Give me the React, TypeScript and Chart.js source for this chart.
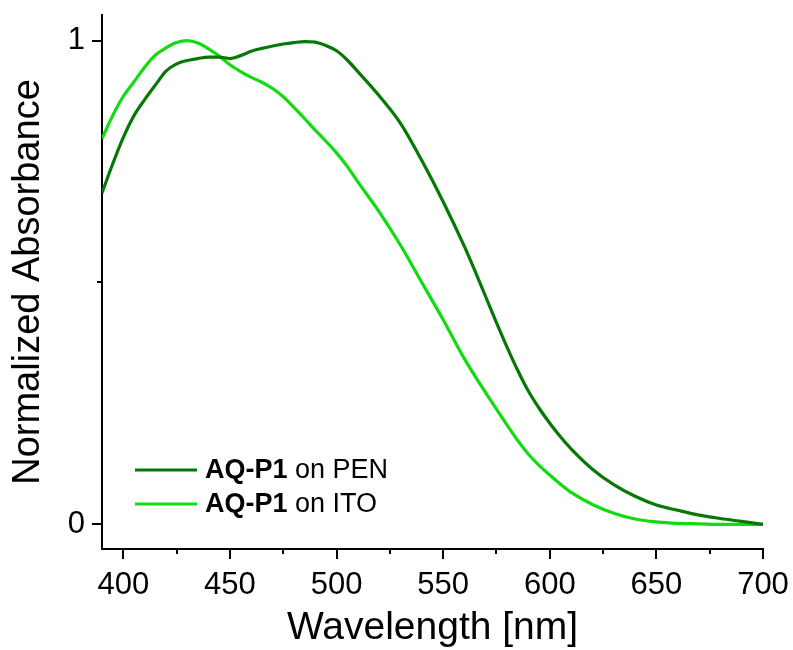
import React, { useEffect, useRef } from 'react';
import { Chart, registerables } from 'chart.js';

Chart.register(...registerables);

const wavelengths = [
  390, 395, 400, 405, 410, 415, 420, 425, 430, 435, 440, 445, 450, 455, 460, 465, 470, 475, 480, 485,
  490, 495, 500, 505, 510, 520, 530, 540, 550, 560, 565, 570, 575, 580, 585, 590, 595, 600, 605, 610,
  620, 630, 640, 650, 660, 670, 680, 690, 700,
];

const absPEN = [
  0.685, 0.745, 0.8, 0.845, 0.878, 0.908, 0.937, 0.952, 0.959, 0.963, 0.966, 0.966, 0.963, 0.969, 0.978,
  0.984, 0.989, 0.993, 0.996, 0.998, 0.997, 0.99, 0.979, 0.96, 0.936, 0.886, 0.829, 0.752, 0.667, 0.574,
  0.523, 0.47, 0.417, 0.366, 0.318, 0.275, 0.24, 0.209, 0.181, 0.156, 0.114, 0.082, 0.058, 0.04, 0.029,
  0.019, 0.012, 0.006, 0.0,
];

const absITO = [
  0.797, 0.845, 0.885, 0.915, 0.945, 0.97, 0.985, 0.996, 1.0, 0.995, 0.983, 0.968, 0.95, 0.936, 0.924,
  0.914, 0.901, 0.884, 0.862, 0.839, 0.815, 0.792, 0.768, 0.74, 0.708, 0.646, 0.577, 0.5, 0.423, 0.342,
  0.306, 0.272, 0.238, 0.205, 0.173, 0.145, 0.122, 0.102, 0.083, 0.066, 0.041, 0.023, 0.011, 0.005,
  0.002, 0.001, 0.0, 0.0, 0.0,
];

const seriesBold = ['AQ-P1', 'AQ-P1'];
const seriesRest = [' on PEN', ' on ITO'];
const seriesColors = ['#067806', '#10dc10'];

const xMajorTicks = [400, 450, 500, 550, 600, 650, 700];
const xMinorTicks = [425, 475, 525, 575, 625, 675];
const yMajorTicks = [0, 1];
const yMinorTicks = [0.5];

const FONT = '"Liberation Sans", Arial, sans-serif';

const axisPlugin = {
  id: 'axisTicksLegend',
  afterDraw(chart: any) {
    const ctx = chart.ctx;
    const xs = chart.scales.x;
    const ys = chart.scales.y;
    const area = chart.chartArea;
    ctx.save();
    ctx.strokeStyle = '#000';
    ctx.lineWidth = 2;
    ctx.beginPath();
    xMajorTicks.forEach((v) => {
      const px = Math.round(xs.getPixelForValue(v));
      ctx.moveTo(px, area.bottom);
      ctx.lineTo(px, area.bottom + 10);
    });
    xMinorTicks.forEach((v) => {
      const px = Math.round(xs.getPixelForValue(v));
      ctx.moveTo(px, area.bottom);
      ctx.lineTo(px, area.bottom + 5);
    });
    yMajorTicks.forEach((v) => {
      const py = Math.round(ys.getPixelForValue(v));
      ctx.moveTo(area.left, py);
      ctx.lineTo(area.left - 10, py);
    });
    yMinorTicks.forEach((v) => {
      const py = Math.round(ys.getPixelForValue(v));
      ctx.moveTo(area.left, py);
      ctx.lineTo(area.left - 5, py);
    });
    ctx.stroke();

    // legend
    const lx0 = 135;
    const lx1 = 197;
    const ly0 = 470;
    const gap = 34;
    ctx.textBaseline = 'middle';
    ctx.textAlign = 'left';
    seriesBold.forEach((b, i) => {
      const y = ly0 + i * gap;
      ctx.strokeStyle = seriesColors[i];
      ctx.lineWidth = 3;
      ctx.beginPath();
      ctx.moveTo(lx0, y);
      ctx.lineTo(lx1, y);
      ctx.stroke();
      ctx.fillStyle = '#000';
      ctx.font = `bold 27px ${FONT}`;
      ctx.fillText(b, 205, y + 1);
      const w = ctx.measureText(b).width;
      ctx.font = `27px ${FONT}`;
      ctx.fillText(seriesRest[i], 205 + w, y + 1);
    });
    ctx.restore();
  },
};

export default function App() {
  const ref = useRef<HTMLCanvasElement | null>(null);
  useEffect(() => {
    if (!ref.current) return;
    const chart = new Chart(ref.current, {
      type: 'line',
      data: {
        labels: wavelengths,
        datasets: [
          {
            label: seriesBold[0] + seriesRest[0],
            data: wavelengths.map((x, i) => ({ x, y: absPEN[i] })),
            borderColor: seriesColors[0],
            borderWidth: 3.2,
            pointRadius: 0,
            cubicInterpolationMode: 'monotone',
          },
          {
            label: seriesBold[1] + seriesRest[1],
            data: wavelengths.map((x, i) => ({ x, y: absITO[i] })),
            borderColor: seriesColors[1],
            borderWidth: 3.2,
            pointRadius: 0,
            cubicInterpolationMode: 'monotone',
          },
        ],
      },
      options: {
        animation: false,
        responsive: false,
        maintainAspectRatio: false,
        layout: { padding: { top: 15, right: 30, left: 0, bottom: 0 } },
        plugins: { legend: { display: false }, tooltip: { enabled: false } },
        scales: {
          x: {
            type: 'linear',
            min: 390,
            max: 700,
            grid: { display: false, drawTicks: false },
            border: { display: true, color: '#000', width: 2 },
            afterBuildTicks: (s: any) => {
              s.ticks = xMajorTicks.map((value) => ({ value }));
            },
            afterFit: (s: any) => {
              s.height = 101;
              s.paddingLeft = 0;
              s.paddingRight = 0;
              s.paddingTop = 0;
              s.paddingBottom = 0;
            },
            ticks: {
              color: '#000',
              padding: 18,
              maxRotation: 0,
              autoSkip: false,
              font: { family: FONT, size: 31 },
              callback: (v: any) => String(v),
            },
            title: {
              display: true,
              text: 'Wavelength [nm]',
              color: '#000',
              font: { family: FONT, size: 39, lineHeight: 1 },
              padding: { top: 0, bottom: 2 },
            },
          },
          y: {
            type: 'linear',
            min: -0.051,
            max: 1.053,
            grid: { display: false, drawTicks: false },
            border: { display: true, color: '#000', width: 2 },
            afterBuildTicks: (s: any) => {
              s.ticks = yMajorTicks.map((value) => ({ value }));
            },
            afterFit: (s: any) => {
              s.width = 102;
              s.paddingLeft = 0;
              s.paddingRight = 0;
              s.paddingTop = 0;
              s.paddingBottom = 0;
            },
            ticks: {
              color: '#000',
              padding: 17,
              autoSkip: false,
              font: { family: FONT, size: 31 },
              callback: (v: any) => String(v),
            },
            title: {
              display: true,
              text: 'Normalized Absorbance',
              color: '#000',
              font: { family: FONT, size: 38, lineHeight: 1 },
              padding: { top: 10, bottom: 0 },
            },
          },
        },
      },
      plugins: [axisPlugin],
    } as any);
    return () => chart.destroy();
  }, []);
  return (
    <div style={{ position: 'absolute', left: 0, top: 0, width: 793, height: 650, background: '#fff' }}>
      <canvas ref={ref} width={793} height={650} style={{ width: 793, height: 650, display: 'block' }} />
    </div>
  );
}
